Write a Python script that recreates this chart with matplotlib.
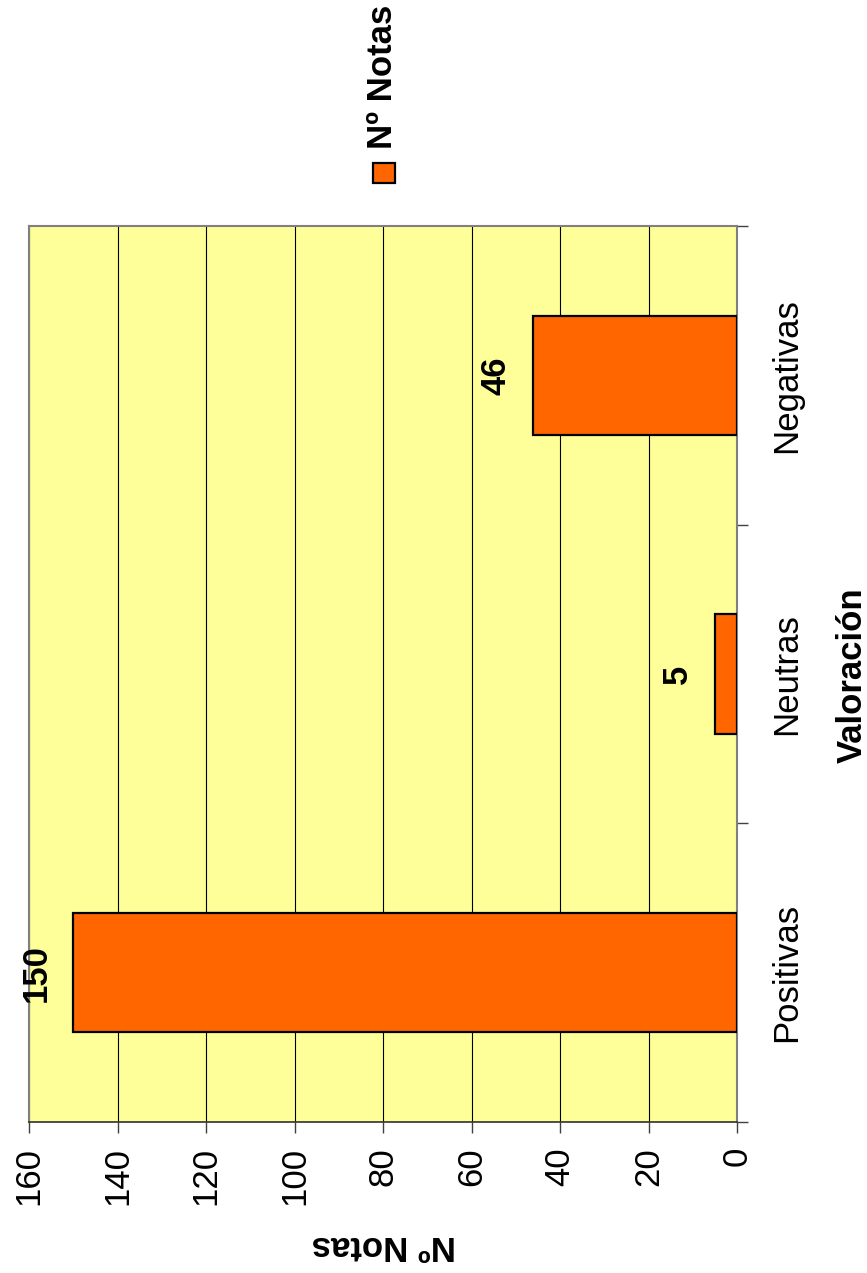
import matplotlib.pyplot as plt
from matplotlib.patches import Rectangle

plt.rcParams['font.family'] = ['Liberation Sans', 'DejaVu Sans']

categories = ['Positivas', 'Neutras', 'Negativas']
notas = [150, 5, 46]
value_ticks = [0, 20, 40, 60, 80, 100, 120, 140, 160]

bar_color = '#FF6600'
plot_bg = '#FFFF99'
fs = 25

W, H = 867, 1273
fig = plt.figure(figsize=(W / 100, H / 100), dpi=100)

# chart is drawn rotated: values run right -> left, categories bottom -> top
ax = fig.add_axes([29 / W, 1 - 1122 / H, (737 - 29) / W, (1122 - 226) / H])
ax.set_facecolor(plot_bg)

pos = list(range(len(categories)))
ax.barh(pos, notas, height=0.4, color=bar_color, edgecolor='black', linewidth=1.6, zorder=3)

ax.set_xlim(160, 0)
ax.set_ylim(-0.5, len(categories) - 0.5)

ax.set_xticks(value_ticks)
ax.set_xticklabels([str(v) for v in value_ticks], rotation=90, fontsize=fs, va='top')
ax.tick_params(axis='x', direction='out', length=8, width=1, color='#404040', pad=10)
ax.xaxis.grid(True, color='black', linewidth=0.8, zorder=1)
ax.set_axisbelow(True)

# category axis on the right, ticks between categories, labels at centres
ax.yaxis.tick_right()
ax.set_yticks([p - 0.5 for p in pos] + [pos[-1] + 0.5])
ax.set_yticklabels([])
ax.set_yticks(pos, minor=True)
ax.set_yticklabels(categories, minor=True, rotation=90, fontsize=fs, va='center')
ax.tick_params(axis='y', which='major', direction='out', length=8, width=1, color='#404040', right=True, left=False)
ax.tick_params(axis='y', which='minor', length=0, pad=24, right=True, left=False)

for side in ['left', 'top', 'right']:
    ax.spines[side].set_color('#808080')
    ax.spines[side].set_linewidth(1.5)
ax.spines['bottom'].set_color('#303030')
ax.spines['bottom'].set_linewidth(1.2)

# data labels
for p, v in zip(pos, notas):
    ax.annotate(str(v), xy=(v, p), xytext=(-27, 0), textcoords='offset points',
                rotation=90, ha='center', va='center', fontsize=fs, fontweight='bold')

# axis titles
fig.text(852 / W, 1 - 675 / H, 'Valoración', rotation=90, ha='center', va='center',
         fontsize=fs, fontweight='bold')
fig.text(384 / W, 1 - 1245 / H, 'Nº Notas', rotation=180, ha='center', va='center',
         fontsize=fs, fontweight='bold')

# legend (rotated)
fig.patches.append(Rectangle((373 / W, 1 - 183 / H), 22 / W, 20 / H, transform=fig.transFigure,
                             facecolor=bar_color, edgecolor='black', linewidth=1.6))
fig.text(383 / W, 1 - 77 / H, 'Nº Notas', rotation=90, ha='center', va='center',
         fontsize=fs, fontweight='bold')

plt.savefig('out.png', dpi=100)
